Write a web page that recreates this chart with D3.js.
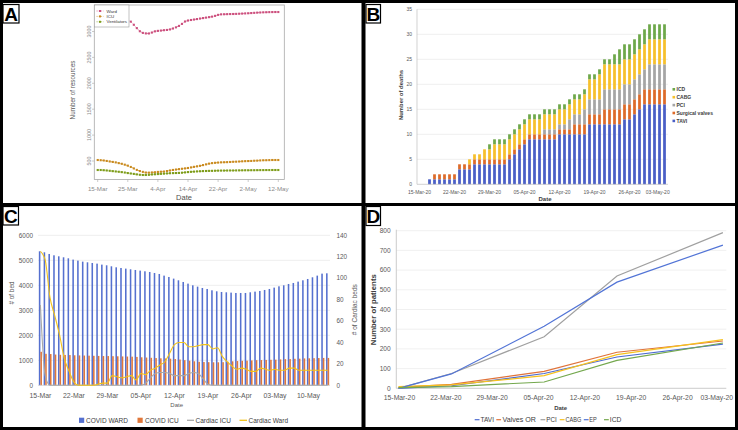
<!DOCTYPE html>
<html><head><meta charset="utf-8">
<script src="https://cdn.jsdelivr.net/npm/d3@7"></script>
<style>html,body{margin:0;padding:0;background:#fff}svg{display:block}</style>
</head><body>
<svg id="chart" width="738" height="430"></svg>
<script>
// ================= PANEL A data =================
const aTickIdx = [0, 10, 20, 30, 40, 50, 60];
const aTickLabels = ["15-Mar", "25-Mar", "4-Apr", "14-Apr", "22-Apr", "2-May", "12-May"];
const aYTicks = [500, 1000, 1500, 2000, 2500, 3000];
const aWard = [3330,3325,3320,3316,3310,3302,3292,3280,3262,3242,3220,3190,3130,3065,3005,2973,2963,2962,2980,3003,3012,3018,3025,3030,3040,3058,3080,3108,3147,3193,3212,3222,3231,3240,3250,3259,3268,3277,3287,3302,3321,3331,3333,3335,3337,3338,3340,3343,3346,3349,3352,3356,3360,3364,3367,3370,3372,3374,3375,3376,3376];
const aICU = [519,515,510,501,491,482,473,459,446,429,410,385,357,328,306,290,277,275,279,283,289,293,296,306,317,327,335,343,350,357,365,376,387,397,407,421,435,449,459,465,470,474,476,478,481,485,487,490,494,497,499,501,505,507,511,514,515,517,519,519,519];
const aVent = [326,326,322,317,311,304,298,292,285,277,267,259,251,242,234,230,230,233,240,244,248,252,256,260,264,266,268,270,274,280,286,291,295,299,302,305,307,309,310,312,314,315,315,316,317,317,318,319,320,321,321,322,322,323,324,324,325,325,326,326,326];
const aSeriesNames = ["Ward", "ICU", "Ventilators"];

// ================= PANEL B data =================
const bStart = "2020-03-15", bEnd = "2020-05-04";
const bTickLabels = ["15-Mar-20","22-Mar-20","29-Mar-20","05-Apr-20","12-Apr-20","19-Apr-20","26-Apr-20","03-May-20"];
const bYTicks = [0,5,10,15,20,25,30,35];
const bTAVI = [0,0,1,1,1,1,1,1,3,3, 3,4,4,4,4,4,4,4,5,6, 7,8,9,9,9,9,9,9,10,10, 10,10,10,10,12,12,12,12,12,12, 12,13,13,14,15,16,16,16,16,16];
const bSV   = [0,0,0,1,1,1,1,1,1,1, 1,1,1,1,1,1,1,1,1,1, 1,1,1,1,1,1,1,1,1,1, 1,2,2,2,2,2,2,3,3,3, 3,3,3,3,3,3,3,3,3,3];
const bPCI  = [0,0,0,0,0,0,0,0,0,0, 0,0,0,0,0,0,0,0,0,0, 0,0,0,0,0,1,1,1,1,1, 2,2,2,3,3,3,3,4,4,4, 4,4,4,4,4,4,5,5,5,5];
const bCABG = [0,0,0,0,0,0,0,0,0,0, 1,1,1,2,2,3,3,3,3,3, 3,3,3,3,3,3,3,3,3,3, 3,3,3,3,4,4,5,5,5,5, 5,5,5,5,5,5,5,5,5,5];
const bICD  = [0,0,0,0,0,0,0,0,0,0, 0,0,0,0,1,1,1,1,1,1, 1,1,1,1,1,1,1,1,1,1, 1,1,1,1,1,1,1,1,1,2, 3,3,3,3,3,3,3,3,3,3];
const bKeys = ["TAVI","Surgical valves","PCI","CABG","ICD"];

// ================= PANEL C data =================
const cStart = "2020-03-15", cEnd = "2020-05-15";
const cTickLabels = ["15-Mar","22-Mar","29-Mar","05-Apr","12-Apr","19-Apr","26-Apr","03-May","10-May"];
const cYTicks = [0,1000,2000,3000,4000,5000,6000];
const cY2Ticks = [0,20,40,60,80,100,120,140];
const cCovidWard = [5360,5320,5253,5200,5160,5120,5080,5027,4987,4947,4920,4893,4867,4827,4800,4760,4720,4693,4667,4640,4613,4587,4560,4533,4493,4453,4387,4333,4267,4200,4133,4067,4000,3947,3893,3853,3800,3760,3733,3720,3707,3693,3693,3693,3720,3747,3773,3813,3853,3907,3960,4000,4053,4093,4147,4200,4253,4320,4387,4467,4480];
const cCovidICU = [1340,1260,1250,1230,1220,1215,1210,1200,1195,1190,1185,1180,1175,1170,1170,1165,1160,1155,1150,1145,1135,1120,1110,1100,1090,1080,1075,1065,1050,1030,1005,985,960,940,930,925,920,920,925,945,960,970,980,985,995,1005,1010,1015,1020,1025,1035,1045,1050,1060,1065,1075,1080,1085,1090,1095,1095];
const cCardiacICU = [75,9,0,0,0,0,0,0,0,0,0,0,0,0,0,0,0,0,0,0,0,0,2,7,11,12,12,11,9,9,9,11,12,11,6,1,0,0,0,0,0,0,0,0,0,0,0,0,0,0,0,0,0,0,0,0,0,0,0,0,0];
const cCardiacWard = [125,117,82,65,47,25,13,3,0,0,0,0,1,2,2,9,8,7,8,9,5,11,10,14,16,19,22,30,38,40,40,36,36,37,38,38,34,35,27,22,18,15,16,15,13,13,16,15,14,15,14,14,16,16,14,14,14,14,14,14,14];
const cLegend = ["COVID WARD","COVID ICU","Cardiac ICU","Cardiac Ward"];

// ================= PANEL D data =================
const dDates = ["2020-03-15","2020-03-23","2020-04-06","2020-04-17","2020-05-03"];
const dTickDates = ["2020-03-15","2020-03-22","2020-03-29","2020-04-05","2020-04-12","2020-04-19","2020-04-26","2020-05-03"];
const dYTicks = [0,100,200,300,400,500,600,700,800];
const dTAVI   = [0, 13, 75, 159, 224];
const dValves = [5, 20, 86, 183, 240];
const dPCI    = [0, 75, 262, 570, 790];
const dCABG   = [8, 17, 64, 171, 247];
const dEP     = [0, 73, 315, 539, 727];
const dICD    = [3, 9, 32, 142, 230];
const dNames = ["TAVI","Valves OR","PCI","CABG","EP","ICD"];

// ================= drawing =================
const FONT = "'Liberation Sans', Arial, sans-serif";
const svg = d3.select("#chart");
svg.append("rect").attr("width",738).attr("height",430).attr("fill","#fff");
function T(g, x, y, s, size, o = {}) {
  const t = g.append("text").attr("x", x).attr("y", y).text(s)
    .attr("font-size", size).attr("font-family", FONT)
    .attr("fill", o.fill || "#595959")
    .attr("text-anchor", o.anchor || "start")
    .attr("font-weight", o.weight || "normal");
  if (o.rot) t.attr("transform", `rotate(-90,${x},${y})`);
  if (o.len) t.attr("textLength", o.len).attr("lengthAdjust", "spacingAndGlyphs");
  return t;
}
const pUTC = d3.utcParse("%Y-%m-%d");

// ---------- Panel A ----------
(function(){
  const g = svg.append("g");
  const x = d3.scaleLinear().domain([0, aWard.length - 1]).range([97.7, 278.3]);
  const y = d3.scaleLinear().domain([500, 3000]).range([161, 31.5]);
  const cols = ["#cc4f7d", "#c98a1e", "#7d9c19"];
  const data = [aWard, aICU, aVent];
  data.forEach((arr, k) => {
    g.append("path").datum(arr)
      .attr("d", d3.line().x((d,i)=>x(i)).y(d=>y(d)))
      .attr("fill","none").attr("stroke", cols[k]).attr("stroke-width",0.7).attr("stroke-dasharray","1.2,1");
    g.selectAll(null).data(arr).enter().append("rect")
      .attr("x",(d,i)=>x(i)-1.05).attr("y",d=>y(d)-1.05).attr("width",2.1).attr("height",2.1)
      .attr("fill", cols[k]);
  });
  g.append("rect").attr("x",94.3).attr("y",5).attr("width",190).attr("height",174.5)
    .attr("fill","none").attr("stroke","#a8a8a8").attr("stroke-width",0.8);
  aYTicks.forEach(v => {
    g.append("line").attr("x1",94.3).attr("x2",92).attr("y1",y(v)).attr("y2",y(v)).attr("stroke","#a8a8a8").attr("stroke-width",0.6);
    T(g, 90.6, y(v), String(v), 5.4, {anchor:"middle", rot:true, fill:"#8a8a8a"});
  });
  aTickIdx.forEach((i,k) => {
    g.append("line").attr("x1",x(i)).attr("x2",x(i)).attr("y1",179.5).attr("y2",182).attr("stroke","#a8a8a8").attr("stroke-width",0.6);
    T(g, x(i), 190.5, aTickLabels[k], 6.2, {anchor:"middle", fill:"#8a8a8a"});
  });
  T(g, 184, 200.3, "Date", 7.5, {anchor:"middle", fill:"#505050"});
  T(g, 74.5, 90, "Number of resources", 6.3, {anchor:"middle", rot:true, fill:"#555"});
  // legend
  g.append("rect").attr("x",94.3).attr("y",5).attr("width",34.7).attr("height",22)
    .attr("fill","#fff").attr("stroke","#999").attr("stroke-width",0.6);
  aSeriesNames.forEach((n,k) => {
    const ly = 11 + k*5.4;
    g.append("line").attr("x1",96.5).attr("x2",103.5).attr("y1",ly).attr("y2",ly)
      .attr("stroke",cols[k]).attr("stroke-width",0.6).attr("stroke-dasharray","1.2,1");
    g.append("rect").attr("x",99).attr("y",ly-1).attr("width",2).attr("height",2).attr("fill",cols[k]);
    T(g, 106.5, ly+1.5, n, 4.4, {fill:"#333"});
  });
})();

// ---------- Panel B ----------
(function(){
  const g = svg.append("g");
  const days = d3.utcDay.range(pUTC(bStart), pUTC(bEnd));
  const x = d3.scaleBand().domain(days.map(d=>+d)).range([417, 667]).paddingInner(0.45).paddingOuter(0.225);
  const y = d3.scaleLinear().domain([0, 35]).range([184.3, 9.3]);
  bYTicks.forEach(v => {
    if (v > 0) g.append("line").attr("x1",417).attr("x2",668).attr("y1",y(v)).attr("y2",y(v)).attr("stroke","#e4e4e4").attr("stroke-width",0.6);
    T(g, 412, y(v)+1.8, String(v), 5, {anchor:"end"});
  });
  const rows = days.map((d,i) => ({date:+d, "TAVI":bTAVI[i], "Surgical valves":bSV[i], "PCI":bPCI[i], "CABG":bCABG[i], "ICD":bICD[i]}));
  const cols = {"TAVI":"#4a5fc6","Surgical valves":"#dd6b2a","PCI":"#a5a5a5","CABG":"#f6c02c","ICD":"#6ea84a"};
  const stack = d3.stack().keys(bKeys)(rows);
  stack.forEach(layer => {
    g.selectAll(null).data(layer).enter().append("rect")
      .attr("x", d => x(d.data.date)).attr("width", x.bandwidth())
      .attr("y", d => y(d[1])).attr("height", d => y(d[0]) - y(d[1]))
      .attr("fill", cols[layer.key]);
  });
  g.append("line").attr("x1",417).attr("x2",668).attr("y1",184.3).attr("y2",184.3).attr("stroke","#bfbfbf").attr("stroke-width",0.7);
  g.append("line").attr("x1",417).attr("x2",417).attr("y1",9.3).attr("y2",184.3).attr("stroke","#bfbfbf").attr("stroke-width",0.7);
  bTickLabels.forEach((lab,k) => {
    const d = days[k*7];
    const cx = x(+d) + x.bandwidth()/2;
    if (k === bTickLabels.length-1) T(g, 669.7, 193.8, lab, 5, {anchor:"end"});
    else T(g, cx, 193.8, lab, 5, {anchor:"middle"});
  });
  T(g, 545, 201.3, "Date", 6, {anchor:"middle", weight:"bold", fill:"#404040"});
  T(g, 403, 95, "Number of deaths", 5.9, {anchor:"middle", rot:true, weight:"bold", fill:"#404040"});
  const legOrder = ["ICD","CABG","PCI","Surgical valves","TAVI"];
  legOrder.forEach((k,i) => {
    const ly = 89.3 + i*7.9;
    g.append("rect").attr("x",672.5).attr("y",ly-1.3).attr("width",2.6).attr("height",2.6).attr("fill",cols[k]);
    T(g, 676.5, ly+1.8, k, 5, {weight:"bold", fill:"#404040"});
  });
})();

// ---------- Panel C ----------
(function(){
  const g = svg.append("g");
  const days = d3.utcDay.range(pUTC(cStart), pUTC(cEnd));
  const x = d3.scaleBand().domain(days.map(d=>+d)).range([38, 330]).paddingInner(0.35).paddingOuter(0.175);
  const xi = d3.scaleBand().domain(["w","i"]).range([0, x.bandwidth()]).padding(0);
  const y = d3.scaleLinear().domain([0, 6000]).range([385.3, 235.3]);
  const y2 = d3.scaleLinear().domain([0, 140]).range([385.3, 235.3]);
  cYTicks.forEach(v => {
    if (v > 0) g.append("line").attr("x1",38).attr("x2",330).attr("y1",y(v)).attr("y2",y(v)).attr("stroke","#e0e0e0").attr("stroke-width",0.6);
    T(g, 33, y(v)+2.3, String(v), 6.4, {anchor:"end"});
  });
  cY2Ticks.forEach(v => T(g, 336.5, y2(v)+2.3, String(v), 6.4));
  const cW = "#5570cf", cI = "#e0773a", cCI = "#a8a8a8", cCW = "#f2c31a";
  g.selectAll(null).data(cCovidWard).enter().append("rect")
    .attr("x",(d,i)=>x(+days[i]) + xi("w")).attr("width",xi.bandwidth())
    .attr("y",d=>y(d)).attr("height",d=>y(0)-y(d)).attr("fill",cW);
  g.selectAll(null).data(cCovidICU).enter().append("rect")
    .attr("x",(d,i)=>x(+days[i]) + xi("i")).attr("width",xi.bandwidth())
    .attr("y",d=>y(d)).attr("height",d=>y(0)-y(d)).attr("fill",cI);
  g.append("line").attr("x1",38).attr("x2",330).attr("y1",385.3).attr("y2",385.3).attr("stroke","#c8c8c8").attr("stroke-width",0.7);
  const ln = d3.line().x((d,i)=>x(+days[i]) + x.bandwidth()/2).y(d=>y2(d)).curve(d3.curveMonotoneX);
  g.append("path").datum(cCardiacICU).attr("d",ln).attr("fill","none").attr("stroke",cCI).attr("stroke-width",1.1);
  g.append("path").datum(cCardiacWard).attr("d",ln).attr("fill","none").attr("stroke",cCW).attr("stroke-width",1.1);
  cTickLabels.forEach((lab,k) => {
    const d = days[k*7];
    T(g, x(+d) + x.bandwidth()/2, 398.2, lab, 6.9, {anchor:"middle"});
  });
  T(g, 176.7, 407.2, "Date", 6, {anchor:"middle"});
  T(g, 14, 293, "# of bed", 6.4, {anchor:"middle", rot:true});
  T(g, 357.5, 309.7, "# of Cardiac beds", 6.5, {anchor:"middle", rot:true});
  // legend
  const ly = 420.3;
  g.append("rect").attr("x",79).attr("y",ly-2.6).attr("width",5.2).attr("height",5.2).attr("fill",cW);
  T(g, 86, ly+2.4, cLegend[0], 6.5, {fill:"#404040"});
  g.append("rect").attr("x",137.5).attr("y",ly-2.6).attr("width",5.2).attr("height",5.2).attr("fill",cI);
  T(g, 145, ly+2.4, cLegend[1], 6.5, {fill:"#404040"});
  g.append("line").attr("x1",187).attr("x2",194).attr("y1",ly).attr("y2",ly).attr("stroke",cCI).attr("stroke-width",1.3);
  T(g, 195.5, ly+2.4, cLegend[2], 6.5, {fill:"#404040"});
  g.append("line").attr("x1",239.5).attr("x2",247).attr("y1",ly).attr("y2",ly).attr("stroke",cCW).attr("stroke-width",1.3);
  T(g, 248.5, ly+2.4, cLegend[3], 6.5, {fill:"#404040"});
})();

// ---------- Panel D ----------
(function(){
  const g = svg.append("g");
  const x = d3.scaleUtc().domain([pUTC("2020-03-15"), pUTC("2020-05-03")]).range([398.5, 722.9]);
  const y = d3.scaleLinear().domain([0, 800]).range([388.3, 230.7]);
  dYTicks.forEach(v => {
    if (v > 0) g.append("line").attr("x1",396.3).attr("x2",726.3).attr("y1",y(v)).attr("y2",y(v)).attr("stroke","#e6e6e6").attr("stroke-width",0.6);
    T(g, 390.7, y(v)+2.3, String(v), 6.6, {anchor:"end"});
  });
  g.append("line").attr("x1",396.3).attr("x2",396.3).attr("y1",229.7).attr("y2",388.3).attr("stroke","#bfbfbf").attr("stroke-width",0.8);
  g.append("line").attr("x1",396.3).attr("x2",726.3).attr("y1",388.3).attr("y2",388.3).attr("stroke","#bfbfbf").attr("stroke-width",0.8);
  const fmt = d3.utcFormat("%d-%b-%y");
  dTickDates.forEach((s,k) => {
    if (k === dTickDates.length - 1) T(g, 733, 399.5, fmt(pUTC(s)), 6.8, {anchor:"end"});
    else T(g, x(pUTC(s)) + 1, 399.5, fmt(pUTC(s)), 6.8, {anchor:"middle"});
  });
  const series = [dTAVI, dValves, dPCI, dCABG, dEP, dICD];
  const cols = ["#4d6bd0", "#e0733a", "#a0a0a0", "#f5c11f", "#5274d6", "#74a84e"];
  const ln = d3.line().x((d,i)=>x(pUTC(dDates[i]))).y(d=>y(d));
  series.forEach((s,k) => {
    g.append("path").datum(s).attr("d",ln).attr("fill","none").attr("stroke",cols[k]).attr("stroke-width",1.2);
  });
  T(g, 560.7, 409.5, "Date", 6, {anchor:"middle", weight:"bold", fill:"#404040"});
  T(g, 376.5, 309.7, "Number of patients", 7.8, {anchor:"middle", rot:true, weight:"bold", fill:"#404040"});
  // legend: [line x, text x, text width]
  const legPos = [[474.7,480.5,13.5],[496.3,502.5,33.5],[540.5,546.3,10.5],[559.7,565.5,15.8],[583.8,589.2,7.5],[604,609.8,11.6]];
  dNames.forEach((n,k) => {
    g.append("line").attr("x1",legPos[k][0]).attr("x2",legPos[k][0]+4.8).attr("y1",419.7).attr("y2",419.7).attr("stroke",cols[k]).attr("stroke-width",1.2);
    T(g, legPos[k][1], 422.2, n, 6.9, {fill:"#404040", len: legPos[k][2]});
  });
})();

// ---------- frames & panel letters ----------
(function(){
  const g = svg.append("g");
  g.append("rect").attr("x",1.5).attr("y",1.5).attr("width",735).attr("height",427).attr("fill","none").attr("stroke","#000").attr("stroke-width",3);
  g.append("line").attr("x1",363.5).attr("x2",363.5).attr("y1",0).attr("y2",430).attr("stroke","#000").attr("stroke-width",4);
  g.append("line").attr("x1",0).attr("x2",738).attr("y1",204.5).attr("y2",204.5).attr("stroke","#000").attr("stroke-width",3.2);
  const labs = [["A",3,4.5,16,18.5],["B",366,4.5,14.5,18.5],["C",3,206.5,15.5,18.5],["D",366,206.5,14.5,19]];
  labs.forEach(([t,x0,y0,w,h]) => {
    g.append("rect").attr("x",x0).attr("y",y0).attr("width",w).attr("height",h).attr("fill","#fff").attr("stroke","#000").attr("stroke-width",1.2);
    T(g, x0 + w/2, y0 + h - 2.3, t, 19, {anchor:"middle", weight:"bold", fill:"#000"});
  });
})();
</script>
</body></html>
